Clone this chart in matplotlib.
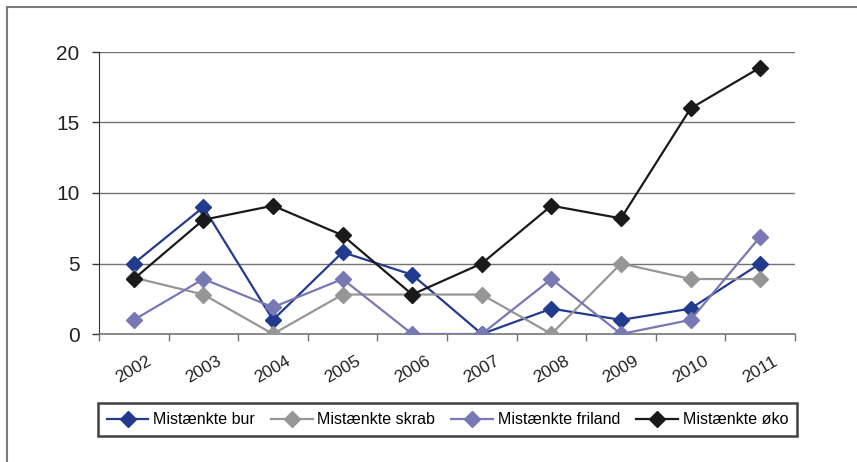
import matplotlib.pyplot as plt
from matplotlib.lines import Line2D
import numpy as np

plt.rcParams['font.family'] = ['Liberation Sans', 'DejaVu Sans']

# Data
years = ['2002', '2003', '2004', '2005', '2006', '2007', '2008', '2009', '2010', '2011']
bur = [5.0, 9.0, 1.0, 5.8, 4.2, 0.0, 1.8, 1.0, 1.8, 5.0]
skrab = [4.0, 2.8, 0.0, 2.8, 2.8, 2.8, 0.0, 5.0, 3.9, 3.9]
friland = [1.0, 3.9, 1.9, 3.9, 0.0, 0.0, 3.9, 0.0, 1.0, 6.9]
oko = [3.9, 8.1, 9.1, 7.0, 2.8, 5.0, 9.1, 8.2, 16.0, 18.9]

series = [
    ('Mistænkte bur', bur, '#233b8e'),
    ('Mistænkte skrab', skrab, '#969696'),
    ('Mistænkte friland', friland, '#7878b4'),
    ('Mistænkte øko', oko, '#1a1a1a'),
]

fig = plt.figure(figsize=(8.57, 4.62), dpi=100)
ax = fig.add_axes([99 / 857, 128 / 462, 696 / 857, 282 / 462])

x = np.arange(len(years))
for name, vals, col in series:
    ax.plot(x, vals, color=col, linewidth=1.6, marker='D', markersize=8.5,
            markerfacecolor=col, markeredgecolor=col, label=name, zorder=3)

grid_col = '#747474'
ax.set_xlim(-0.5, len(years) - 0.5)
ax.set_ylim(0, 20)
ax.set_yticks([0, 5, 10, 15, 20])
for yv in [5, 10, 15, 20]:
    ax.axhline(yv, color=grid_col, linewidth=1.0, zorder=1)

# category boundaries as major ticks, labels at centres
ax.set_xticks(np.arange(-0.5, len(years), 1.0))
ax.set_xticklabels([])
ax.set_xticks(x, minor=True)
ax.set_xticklabels(years, minor=True, rotation=30, ha='center', fontsize=12.5,
                   color='#222222')
ax.tick_params(axis='x', which='major', length=5, width=1, color=grid_col)
ax.tick_params(axis='x', which='minor', length=0, pad=14)
ax.tick_params(axis='y', length=5, width=1, color='#333333', pad=9,
               labelsize=15, labelcolor='#222222')

for s in ['top', 'right']:
    ax.spines[s].set_visible(False)
ax.spines['left'].set_color('#333333')
ax.spines['bottom'].set_color(grid_col)
ax.spines['bottom'].set_linewidth(1.2)

leg = fig.legend(loc='lower left', ncol=4, mode='expand',
                 bbox_to_anchor=(98 / 857, 26 / 462, 699 / 857, 40 / 462),
                 fontsize=11.5, frameon=True, fancybox=False, handlelength=2.6,
                 borderaxespad=0, borderpad=0.55, handletextpad=0.3)
leg.get_frame().set_edgecolor('#111111')
leg.get_frame().set_linewidth(1.8)

# outer chart frame (only top and left edges visible)
fig.add_artist(Line2D([7 / 857, 7 / 857], [0, 1 - 7 / 462], transform=fig.transFigure,
                      color='#7a7a7a', linewidth=1.5))
fig.add_artist(Line2D([7 / 857, 1], [1 - 7 / 462, 1 - 7 / 462], transform=fig.transFigure,
                      color='#7a7a7a', linewidth=1.5))

fig.savefig('out.png', dpi=100)
